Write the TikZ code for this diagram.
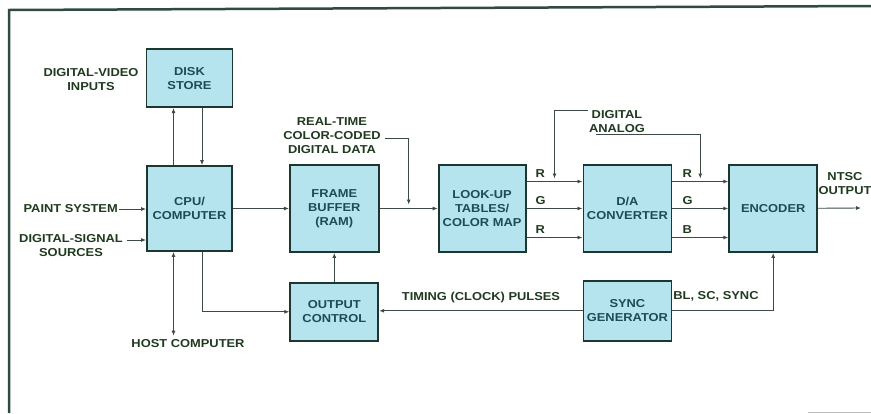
\documentclass[tikz,border=0pt]{standalone}
\usepackage{xcolor}
\usepackage{fontspec}
\setmainfont{Liberation Sans}[FakeStretch=1.12]
\usepackage{tikz}
\usetikzlibrary{arrows.meta,positioning,calc}

\definecolor{boxfill}{HTML}{B5E4EF}
\definecolor{boxline}{HTML}{1C3630}
\definecolor{boxtext}{HTML}{1A4D55}
\definecolor{labeltext}{HTML}{1F3A1F}
\definecolor{wirecol}{HTML}{3C4A44}
\definecolor{framecol}{HTML}{2F4A40}
\newcommand{\diagfont}{\fontsize{11.5}{14}\selectfont\bfseries}

\begin{document}
\begin{tikzpicture}[
    x=1pt, y=1pt,
    block/.style={rectangle, draw=boxline, line width=1.8pt, fill=boxfill, minimum width=88pt, minimum height=87pt, align=center, text=boxtext, font=\diagfont, inner sep=1pt},
    lowblock/.style={block, minimum height=58pt},
    lbl/.style={align=center, text=labeltext, font=\diagfont, inner sep=1pt},
    arrow/.style={-{Latex[length=5pt,width=4pt]}, line width=0.9pt, draw=wirecol},
    darrow/.style={{Latex[length=5pt,width=4pt]}-{Latex[length=5pt,width=4pt]}, line width=0.9pt, draw=wirecol}
]
    \useasboundingbox (0,0) rectangle (871,-413);
    % frame
    \draw[framecol, line width=2.5pt] (871,-6) -- (9,-10) -- (9,-413);
    \draw[gray!50, line width=1pt] (808,-412) -- (871,-412);

    % blocks
    \node[block, minimum width=85pt, minimum height=85pt] (cpu) at (189.5,-208.5) {CPU/\\COMPUTER};
    \node[lowblock, above=57pt of cpu, minimum width=86pt] (disk) {DISK\\STORE};
    \node[block, right=56pt of cpu, minimum width=89pt] (fb) {FRAME\\BUFFER\\(RAM)};
    \node[block, right=58pt of fb, minimum width=87pt] (lut) {LOOK-UP\\TABLES/\\COLOR MAP};
    \node[block, right=56pt of lut] (da) {D/A\\CONVERTER};
    \node[block, right=56pt of da] (enc) {ENCODER};
    \node[lowblock, below=29pt of fb] (oc) {OUTPUT\\CONTROL};
    \node[lowblock, below=27pt of da, minimum height=60pt] (sync) {SYNC\\GENERATOR};

    % labels
    \node[lbl] (dvin) at (91,-80) {DIGITAL-VIDEO\\INPUTS};
    \node[lbl, anchor=east] (paint) at (119,-209) {PAINT SYSTEM};
    \node[lbl] (dsig) at (71,-246) {DIGITAL-SIGNAL\\SOURCES};
    \node[lbl] (host) at (188,-344) {HOST COMPUTER};
    \node[lbl] (rtdata) at (332,-136) {REAL-TIME\\COLOR-CODED\\DIGITAL DATA};
    \node[lbl] (digital) at (617,-122) {DIGITAL\\ANALOG};
    \node[lbl] (ntsc) at (845,-184) {NTSC\\OUTPUT};
    \node[lbl] (timing) at (481,-298) {TIMING (CLOCK) PULSES};
    \node[lbl] (blsc) at (716,-296) {BL, SC, SYNC};
    \coordinate (dsigend) at (127,-240);
    \coordinate (ntscend) at (861,-208);

    % cpu and disk
    \draw[arrow] ([xshift=-16pt]cpu.north) -- ([xshift=-16pt]disk.south);
    \draw[arrow] ([xshift=12.5pt]disk.south) -- ([xshift=12.5pt]cpu.north);
    \draw[arrow] (paint.east) -- (cpu.west |- paint.east);
    \draw[arrow] (dsigend) -- (cpu.west |- dsigend);
    \draw[darrow, shorten >=3pt] ([xshift=-16pt]cpu.south) -- ([xshift=-16pt]cpu.south |- host.north);
    \draw[arrow] ([xshift=12.5pt]cpu.south) |- (oc.west);

    % data path
    \draw[arrow] (cpu) -- (fb);
    \draw[arrow] (oc) -- (fb);
    \draw[arrow] (fb) -- (lut);
    \draw[arrow, shorten >=4pt] ([xshift=3pt,yshift=-2pt]rtdata.east) -| ($(fb.east)!0.5!(lut.west)$);
    \foreach \dy/\t [count=\i] in {27/R,0/G,-29/R} {
        \draw[arrow] ([yshift=\dy pt]lut.east) -- ([yshift=\dy pt]da.west);
        \node[lbl, anchor=south west] (lutout\i) at ([xshift=8pt,yshift=\dy pt+3pt]lut.east) {\t};
    }
    \foreach \dy/\t [count=\i] in {27/R,0/G,-29/B} {
        \draw[arrow] ([yshift=\dy pt]da.east) -- ([yshift=\dy pt]enc.west);
        \node[lbl, anchor=south west] (daout\i) at ([xshift=9pt,yshift=\dy pt+3pt]da.east) {\t};
    }
    \draw[arrow, shorten >=3pt] ([yshift=-1pt]digital.north west) -| ($([yshift=27pt]lut.east)!0.5!([yshift=27pt]da.west)$);
    \draw[arrow, shorten >=3pt] ([xshift=8pt]digital.south west) -| ($([yshift=27pt]da.east)!0.5!([yshift=27pt]enc.west)$);
    \draw[arrow] (enc) -- (ntscend);

    % timing
    \draw[arrow] (sync.west) -- (sync.west -| oc.east);
    \draw[arrow] (sync.east) -| (enc.south);
\end{tikzpicture}
\end{document}
